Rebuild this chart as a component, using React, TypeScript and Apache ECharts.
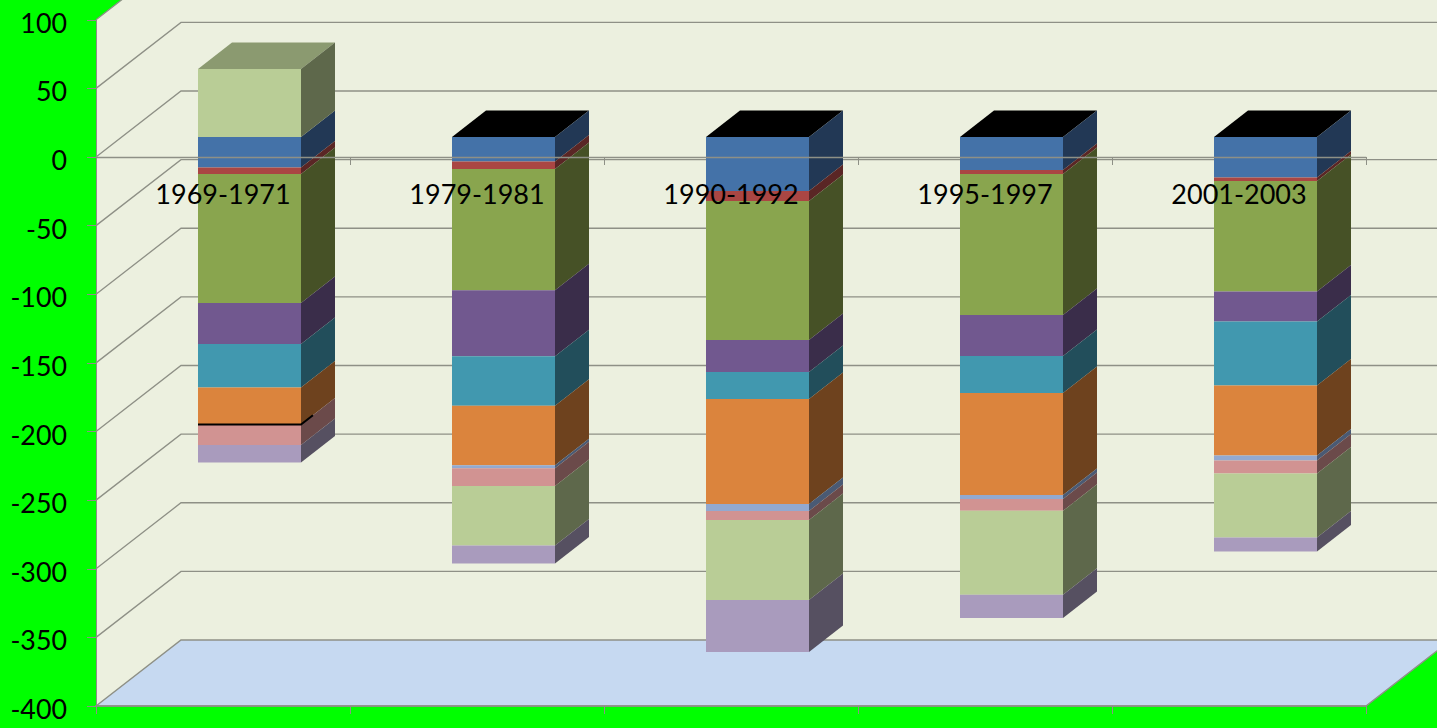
import React, { useEffect, useRef } from "react";
import * as echarts from "echarts";

const categories = ["1969-1971", "1979-1981", "1990-1992", "1995-1997", "2001-2003"];
const valueTicks = [100, 50, 0, -50, -100, -150, -200, -250, -300, -350, -400];

const seriesBlue = [-22.2, -17.9, -39.3, -24.0, -29.5];
const seriesRed = [-4.7, -5.5, -7.3, -2.9, -2.6];
const seriesGreen = [-94.0, -88.2, -101.3, -102.7, -80.5];
const seriesPurple = [-29.9, -48.1, -23.3, -29.9, -21.9];
const seriesTeal = [-31.7, -36.1, -19.7, -27.0, -46.6];
const seriesOrange = [-27.0, -43.4, -76.5, -74.3, -51.0];
const seriesSteel = [0, -2.2, -5.1, -2.9, -3.6];
const seriesPink = [-14.9, -12.8, -6.6, -8.7, -9.5];
const seriesLightGreen = [49.5, -43.4, -58.3, -61.2, -46.6];
const seriesLavender = [-12.8, -13.1, -37.9, -16.8, -10.2];

const stackOrder = [
  { name: "blue", values: seriesBlue, front: "#4472A8", side: "#223855" },
  { name: "red", values: seriesRed, front: "#AA4643", side: "#5A2625" },
  { name: "green", values: seriesGreen, front: "#89A54E", side: "#465126" },
  { name: "purple", values: seriesPurple, front: "#71588F", side: "#3A2D4A" },
  { name: "teal", values: seriesTeal, front: "#4198AF", side: "#224E5B" },
  { name: "orange", values: seriesOrange, front: "#DB843D", side: "#6E421E" },
  { name: "steel", values: seriesSteel, front: "#93A9CF", side: "#4A5A74" },
  { name: "pink", values: seriesPink, front: "#D19392", side: "#6B4A4A" },
  { name: "lightGreen", values: seriesLightGreen, front: "#B9CD96", side: "#5E684B" },
  { name: "lavender", values: seriesLavender, front: "#A99BBD", side: "#565061" },
];

const WALL_DX = 85;
const WALL_DY = -66;
const BAR_DX = 26.5;
const BAR_DY = -20;
const BAR_W = 103;
const SIDE_DX = 34;
const SIDE_DY = -26.5;
const GRID = "#8E9086";
const FONT = "Lato";

function buildStacks() {
  const neg = categories.map(() => 0);
  const pos = categories.map(() => 0);
  return stackOrder.map((s) =>
    s.values.map((v, i) => {
      if (v > 0) {
        const start = pos[i];
        pos[i] += v;
        return [i, start, pos[i], v];
      }
      const start = neg[i];
      neg[i] += v;
      return [i, start, neg[i], v];
    })
  );
}

export default function App() {
  const ref = useRef<HTMLDivElement>(null);

  useEffect(() => {
    const chart = echarts.init(ref.current!, null, { renderer: "svg" });
    const stacks = buildStacks();
    const tops = categories.map((_, i) => {
      let p = 0;
      stackOrder.forEach((s) => {
        if (s.values[i] > 0) p += s.values[i];
      });
      return [i, p];
    });

    const wallSeries = {
      type: "custom",
      silent: true,
      z: 1,
      clip: false,
      data: [[0, -400]],
      encode: { x: 0, y: 1 },
      renderItem: (_: any, api: any) => {
        const band = api.size([1, 0])[0];
        const left = api.coord([0, 0])[0] - band / 2;
        const right = api.coord([categories.length - 1, 0])[0] + band / 2;
        const yTop = api.coord([0, 100])[1];
        const yBot = api.coord([0, -400])[1];
        const children: any[] = [
          {
            type: "polygon",
            shape: {
              points: [
                [left, yBot],
                [left, yTop],
                [left + WALL_DX, yTop + WALL_DY],
                [right + WALL_DX, yTop + WALL_DY],
                [right + WALL_DX, yBot + WALL_DY],
                [right, yBot],
              ],
            },
            style: { fill: "#ECF0DF" },
          },
        ];
        valueTicks.forEach((t) => {
          if (t === -400) return;
          const y = api.coord([0, t])[1];
          children.push({
            type: "polyline",
            shape: {
              points: [
                [left, y],
                [left + WALL_DX, y + WALL_DY],
                [right + WALL_DX, y + WALL_DY],
              ],
            },
            style: { stroke: GRID, lineWidth: 1.3, fill: "none" },
          });
        });
        children.push({
          type: "polygon",
          shape: {
            points: [
              [left, yBot],
              [left + WALL_DX, yBot + WALL_DY],
              [right + WALL_DX, yBot + WALL_DY],
              [right, yBot],
            ],
          },
          style: { fill: "#C6D9F1", stroke: GRID, lineWidth: 1.5 },
        });
        return { type: "group", children };
      },
    };

    const topSeries = {
      type: "custom",
      silent: true,
      z: 3,
      clip: false,
      data: tops,
      encode: { x: 0, y: 1 },
      renderItem: (_: any, api: any) => {
        const p = api.coord([api.value(0), api.value(1)]);
        const x = p[0] + BAR_DX - BAR_W / 2;
        const y = p[1] + BAR_DY;
        return {
          type: "polygon",
          shape: {
            points: [
              [x, y],
              [x + BAR_W, y],
              [x + BAR_W + SIDE_DX, y + SIDE_DY],
              [x + SIDE_DX, y + SIDE_DY],
            ],
          },
          style: { fill: api.value(1) > 0 ? "#8B9A70" : "#000000" },
        };
      },
    };

    const barSeries = stackOrder.map((s, si) => ({
      type: "custom",
      name: s.name,
      silent: true,
      z: 3,
      clip: false,
      data: stacks[si],
      encode: { x: 0, y: [1, 2] },
      renderItem: (_: any, api: any) => {
        const c = api.value(0);
        const a = api.coord([c, api.value(1)]);
        const b = api.coord([c, api.value(2)]);
        const x = a[0] + BAR_DX - BAR_W / 2;
        const y1 = a[1] + BAR_DY;
        const y2 = b[1] + BAR_DY;
        if (api.value(3) === 0) {
          return {
            type: "polyline",
            shape: {
              points: [
                [x, y1],
                [x + BAR_W, y1],
                [x + BAR_W + SIDE_DX * 0.35, y1 + SIDE_DY * 0.35],
              ],
            },
            style: { stroke: "#000000", lineWidth: 2, fill: "none" },
            z2: 5,
          };
        }
        return {
          type: "group",
          children: [
            {
              type: "polygon",
              shape: {
                points: [
                  [x + BAR_W, y1],
                  [x + BAR_W + SIDE_DX, y1 + SIDE_DY],
                  [x + BAR_W + SIDE_DX, y2 + SIDE_DY],
                  [x + BAR_W, y2],
                ],
              },
              style: { fill: s.side },
            },
            {
              type: "rect",
              shape: { x, y: Math.min(y1, y2), width: BAR_W, height: Math.abs(y2 - y1) },
              style: { fill: s.front },
            },
          ],
        };
      },
    }));

    chart.setOption({
      animation: false,
      backgroundColor: "#00FF00",
      grid: { left: 96, right: 71, top: 19.75, bottom: 22, outerBoundsMode: "none", containLabel: false },
      xAxis: [
        {
          type: "category",
          data: categories,
          position: "bottom",
          z: 10,
          axisLine: { show: true, onZero: false, lineStyle: { color: GRID, width: 1.5 } },
          axisTick: { show: true, length: 8, lineStyle: { color: GRID } },
          axisLabel: { show: false },
          splitLine: { show: false },
        },
        {
          type: "category",
          data: categories,
          position: "bottom",
          offset: -549,
          z: 10,
          axisLine: { show: true, onZero: false, lineStyle: { color: GRID, width: 1.3 } },
          axisTick: { show: true, length: 8, lineStyle: { color: GRID } },
          axisLabel: { color: "#000000", fontFamily: FONT, fontSize: 27, margin: 23 },
          splitLine: { show: false },
        },
      ],
      yAxis: {
        type: "value",
        min: -400,
        max: 100,
        interval: 50,
        z: 10,
        axisLine: { show: true, onZero: false, lineStyle: { color: GRID, width: 1 } },
        axisTick: { show: true, length: 9, lineStyle: { color: GRID } },
        axisLabel: {
          margin: 29,
          formatter: "{v|{value}}",
          rich: {
            v: { color: "#000000", fontFamily: FONT, fontSize: 26.8, lineHeight: 32, padding: [6, 0, 0, 0] },
          },
        },
        splitLine: { show: false },
      },
      series: [wallSeries, topSeries, ...barSeries],
    });
    return () => chart.dispose();
  }, []);

  return (
    <div
      ref={ref}
      style={{ position: "absolute", left: 0, top: 0, width: 1437, height: 728 }}
    />
  );
}
